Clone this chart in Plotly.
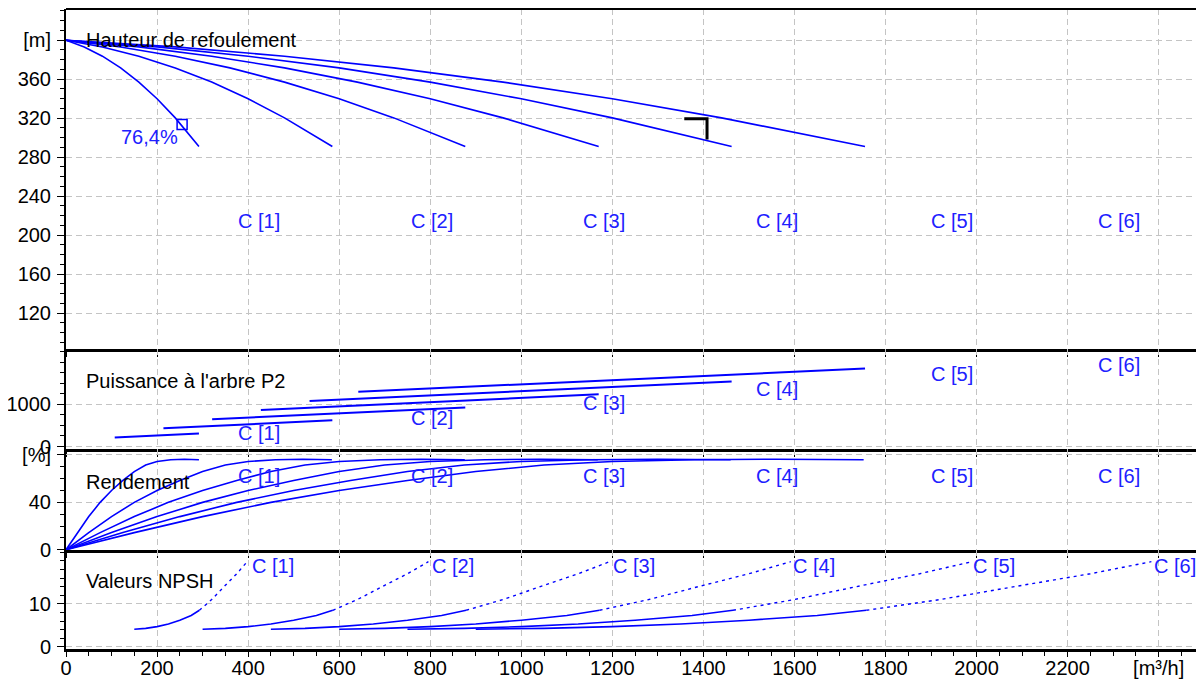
import plotly.graph_objects as go
from plotly.subplots import make_subplots

BLUE = "#0000ff"
LABEL_BLUE = "#2020ff"
GRID = "#c4c4c4"
FONT = "Liberation Sans, Arial, sans-serif"

curve_names = ["C [1]", "C [2]", "C [3]", "C [4]", "C [5]", "C [6]"]

# ---------------- Hauteur de refoulement [m] ----------------
head_h = [400, 393.1, 383.6, 371.6, 357.0, 339.9, 320.3, 291.0]
head_q_c1 = [0, 40, 80, 120, 160, 200, 240, 292]
head_q_c2 = [0, 80, 160, 240, 320, 400, 480, 585]
head_q_c3 = [0, 120, 240, 360, 480, 600, 720, 877]
head_q_c4 = [0, 160, 320, 480, 640, 800, 960, 1170]
head_q_c5 = [0, 200, 400, 600, 800, 1000, 1200, 1462]
head_q_c6 = [0, 240, 480, 720, 960, 1200, 1440, 1755]
bep_q = [255]
bep_h = [313.5]
bep_text = "76,4%"
op_q = [1358, 1408, 1408]
op_h = [319.5, 319.5, 298]

# ---------------- Puissance a l'arbre P2 ----------------
pow_q_c1 = [107, 150, 200, 250, 292]
pow_p_c1 = [212, 236, 261, 287, 311]
pow_q_c2 = [214, 300, 400, 500, 585]
pow_p_c2 = [430, 474, 524, 574, 622]
pow_q_c3 = [321, 450, 600, 750, 877]
pow_p_c3 = [645, 711, 786, 861, 925]
pow_q_c4 = [428, 600, 800, 1000, 1170]
pow_p_c4 = [862, 948, 1048, 1148, 1236]
pow_q_c5 = [535, 750, 1000, 1250, 1462]
pow_p_c5 = [1080, 1186, 1310, 1436, 1540]
pow_q_c6 = [642, 900, 1200, 1500, 1755]
pow_p_c6 = [1298, 1424, 1572, 1724, 1846]

# ---------------- Rendement [%] ----------------
eff_e = [0, 14.5, 28, 40, 50, 58.5, 66, 71.5, 74.5, 76, 76.4, 76]
eff_q_c1 = [0, 25, 50, 75, 100, 125, 150, 175, 200, 230, 260, 292]
eff_q_c2 = [0, 50, 100, 150, 200, 250, 300, 350, 400, 460, 520, 584]
eff_q_c3 = [0, 75, 150, 225, 300, 375, 450, 525, 600, 690, 780, 876]
eff_q_c4 = [0, 100, 200, 300, 400, 500, 600, 700, 800, 920, 1040, 1168]
eff_q_c5 = [0, 125, 250, 375, 500, 625, 750, 875, 1000, 1150, 1300, 1460]
eff_q_c6 = [0, 150, 300, 450, 600, 750, 900, 1050, 1200, 1380, 1560, 1752]

# ---------------- Valeurs NPSH [m] ----------------
npsh_solid_n = [4.1, 4.3, 4.7, 5.3, 6.2, 7.3, 8.5]
npsh_dot_n = [8.5, 11.0, 14.3, 17.0, 19.8]
npsh_solid_q_c1 = [150, 175, 200, 225, 250, 275, 293]
npsh_dot_q_c1 = [293, 320, 350, 375, 398]
npsh_solid_q_c2 = [300, 350, 400, 450, 500, 550, 586]
npsh_dot_q_c2 = [586, 640, 700, 750, 796]
npsh_solid_q_c3 = [450, 525, 600, 675, 750, 825, 879]
npsh_dot_q_c3 = [879, 960, 1050, 1125, 1194]
npsh_solid_q_c4 = [600, 700, 800, 900, 1000, 1100, 1172]
npsh_dot_q_c4 = [1172, 1280, 1400, 1500, 1592]
npsh_solid_q_c5 = [750, 875, 1000, 1125, 1250, 1375, 1465]
npsh_dot_q_c5 = [1465, 1600, 1750, 1875, 1990]
npsh_solid_q_c6 = [900, 1050, 1200, 1350, 1500, 1650, 1758]
npsh_dot_q_c6 = [1758, 1920, 2100, 2250, 2384]

# ---------------- Labels / ticks ----------------
label_q = [423, 803, 1181, 1561, 1945, 2313]
label_head_y = 215
label_pow_y = [320, 675, 1030, 1365, 1720, 1930]
label_eff_y = 62
label_npsh_q = [404, 800, 1196, 1592, 1988, 2386]
label_npsh_y = 18.8

x_tick_vals = [0, 200, 400, 600, 800, 1000, 1200, 1400, 1600, 1800, 2000, 2200, 2400]
x_tick_text = ["0", "200", "400", "600", "800", "1000", "1200", "1400", "1600",
               "1800", "2000", "2200", "[m³/h]"]
head_tick_vals = [120, 160, 200, 240, 280, 320, 360, 400]
head_tick_text = ["120", "160", "200", "240", "280", "320", "360", "[m]"]
pow_tick_vals = [0, 1000]
pow_tick_text = ["0", "1000"]
eff_tick_vals = [0, 40, 80]
eff_tick_text = ["0", "40", "[%]"]
npsh_tick_vals = [0, 10]
npsh_tick_text = ["0", "10"]

fig = make_subplots(rows=4, cols=1, shared_xaxes=True, vertical_spacing=0)

head_qs = [head_q_c1, head_q_c2, head_q_c3, head_q_c4, head_q_c5, head_q_c6]
for q in head_qs:
    fig.add_trace(go.Scatter(x=q, y=head_h, mode="lines",
                             line=dict(color=BLUE, width=1.6), hoverinfo="skip"),
                  row=1, col=1)
fig.add_trace(go.Scatter(x=bep_q, y=bep_h, mode="markers",
                         marker=dict(symbol="square-open", size=10, color=BLUE,
                                     line=dict(width=1.5, color=BLUE))),
              row=1, col=1)
fig.add_trace(go.Scatter(x=op_q, y=op_h, mode="lines",
                         line=dict(color="black", width=3)), row=1, col=1)

pow_qs = [pow_q_c1, pow_q_c2, pow_q_c3, pow_q_c4, pow_q_c5, pow_q_c6]
pow_ps = [pow_p_c1, pow_p_c2, pow_p_c3, pow_p_c4, pow_p_c5, pow_p_c6]
for q, p in zip(pow_qs, pow_ps):
    fig.add_trace(go.Scatter(x=q, y=p, mode="lines",
                             line=dict(color=BLUE, width=2)), row=2, col=1)

eff_qs = [eff_q_c1, eff_q_c2, eff_q_c3, eff_q_c4, eff_q_c5, eff_q_c6]
for q in eff_qs:
    fig.add_trace(go.Scatter(x=q, y=eff_e, mode="lines",
                             line=dict(color=BLUE, width=1.6)), row=3, col=1)

npsh_solid = [npsh_solid_q_c1, npsh_solid_q_c2, npsh_solid_q_c3,
              npsh_solid_q_c4, npsh_solid_q_c5, npsh_solid_q_c6]
npsh_dot = [npsh_dot_q_c1, npsh_dot_q_c2, npsh_dot_q_c3,
            npsh_dot_q_c4, npsh_dot_q_c5, npsh_dot_q_c6]
for qs, qd in zip(npsh_solid, npsh_dot):
    fig.add_trace(go.Scatter(x=qs, y=npsh_solid_n, mode="lines",
                             line=dict(color=BLUE, width=1.6)), row=4, col=1)
    fig.add_trace(go.Scatter(x=qd, y=npsh_dot_n, mode="lines",
                             line=dict(color=BLUE, width=1.4, dash="3px,4px")),
                  row=4, col=1)

ann = []
def txt(x, y, s, xref, yref, color="black", xanchor="center"):
    ann.append(dict(x=x, y=y, text=s, xref=xref, yref=yref, showarrow=False,
                    xanchor=xanchor, yanchor="middle",
                    font=dict(family=FONT, size=20, color=color)))

txt(40, 400, "Hauteur de refoulement", "x", "y", xanchor="left")
txt(40, 1552, "Puissance à l'arbre P2", "x2", "y2", xanchor="left")
txt(40, 57, "Rendement", "x3", "y3", xanchor="left")
txt(40, 15.3, "Valeurs NPSH", "x4", "y4", xanchor="left")
txt(184, 301, bep_text, "x", "y", color=LABEL_BLUE)
for i, name in enumerate(curve_names):
    txt(label_q[i], label_head_y, name, "x", "y", color=LABEL_BLUE)
    txt(label_q[i], label_pow_y[i], name, "x2", "y2", color=LABEL_BLUE)
    txt(label_q[i], label_eff_y, name, "x3", "y3", color=LABEL_BLUE)
    txt(label_npsh_q[i], label_npsh_y, name, "x4", "y4", color=LABEL_BLUE,
        xanchor="left")

grid_common = dict(showgrid=True, gridcolor=GRID, griddash="6px,4px", gridwidth=1,
                   zeroline=False)
tickfont = dict(family=FONT, size=20, color="black")

xcommon = dict(range=[0, 2482], showline=True, linecolor="black", linewidth=3,
               tickmode="array", tickvals=x_tick_vals, ticks="outside", ticklen=5,
               tickcolor="black", tickwidth=1, automargin=False, **grid_common)

def ycommon(rng, tv, tt, dom, minor_dtick):
    return dict(range=rng, domain=dom, showline=True, linecolor="black", linewidth=2,
                tickmode="array", tickvals=tv, ticktext=tt, ticks="outside",
                ticklen=7, tickcolor="black", tickwidth=1, tickfont=tickfont,
                ticklabelstandoff=2, automargin=False,
                minor=dict(tickmode="linear", tick0=0, dtick=minor_dtick, ticklen=4,
                           ticks="outside", tickcolor="black", showgrid=False),
                **grid_common)

# The page body has an 8px margin: the figure is sized so that the plot area
# spans x 66..1196 and y 9..649 of the 1204x687 window without overflow.
fig.update_layout(
    width=1188, height=671,
    margin=dict(l=58, r=0, t=1, b=30, autoexpand=False),
    paper_bgcolor="white", plot_bgcolor="white",
    showlegend=False,
    font=dict(family=FONT, size=20, color="black"),
    annotations=ann,
    xaxis=dict(showticklabels=False, **xcommon),
    xaxis2=dict(showticklabels=False, **xcommon),
    xaxis3=dict(showticklabels=False, **xcommon),
    xaxis4=dict(showticklabels=True, ticktext=x_tick_text, tickfont=tickfont,
                ticklabelstandoff=-6,
                minor=dict(tickmode="linear", tick0=0, dtick=50, ticklen=4,
                           ticks="outside", tickcolor="black", showgrid=False),
                **xcommon),
    yaxis=ycommon([83.2, 432], head_tick_vals, head_tick_text, [0.46875, 1.0], 10),
    yaxis2=ycommon([-71, 2310], pow_tick_vals, pow_tick_text, [0.31172, 0.46875], 250),
    yaxis3=ycommon([-0.6, 84.6], eff_tick_vals, eff_tick_text, [0.15391, 0.31172], 10),
    yaxis4=ycommon([-0.5, 22.4], npsh_tick_vals, npsh_tick_text, [0.0, 0.15391], 2),
    shapes=[dict(type="line", xref="paper", yref="paper", x0=0, x1=1, y0=1, y1=1,
                 line=dict(color="black", width=2))],
)

fig.write_html("out.html")
